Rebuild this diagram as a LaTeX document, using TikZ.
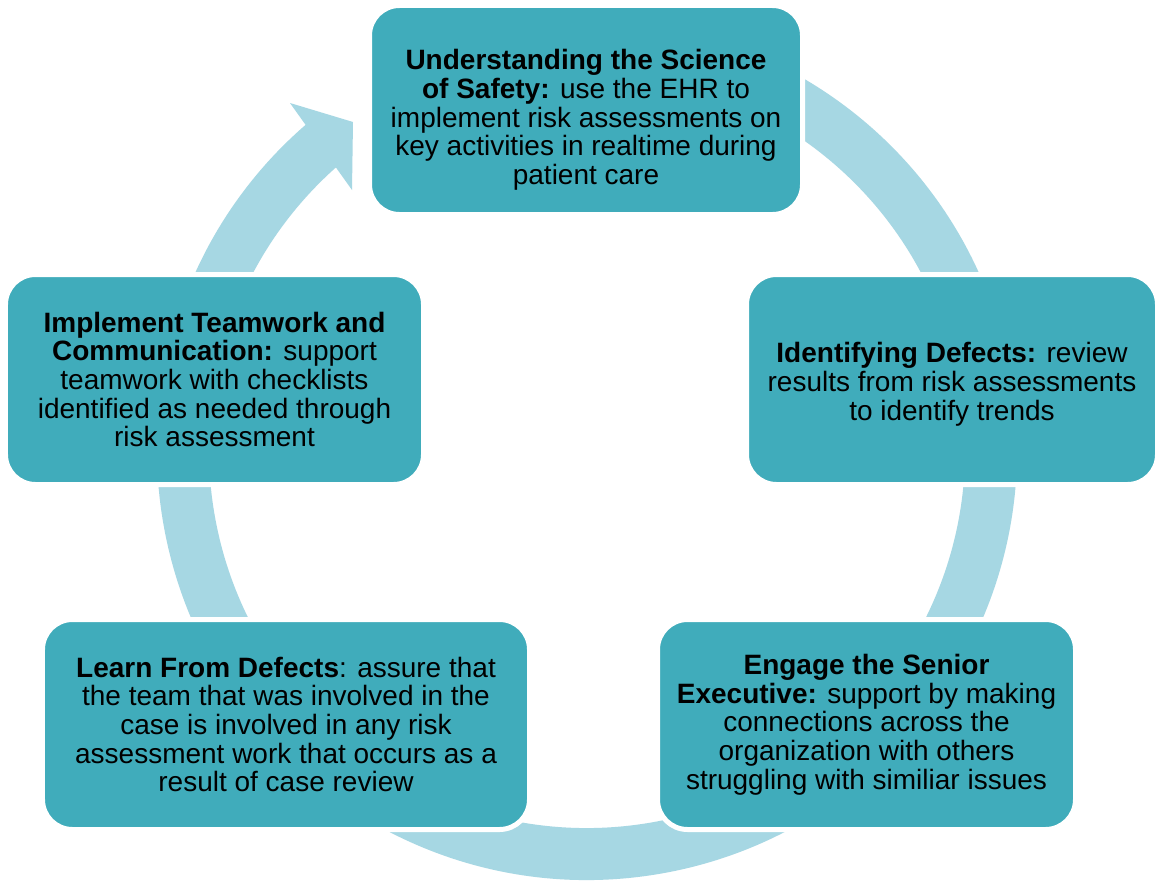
\documentclass[tikz,border=0pt]{standalone}
\usepackage{fontspec}
\setmainfont{Liberation Sans}
\definecolor{boxcol}{RGB}{64,172,187}
\definecolor{ringcol}{RGB}{166,215,227}
\begin{document}
\begin{tikzpicture}[x=1bp,y=-1bp,
  stepbox/.style={draw=white, line width=5bp, fill=boxcol, rounded corners=30bp,
    inner sep=0pt, align=center, text=black,
    font=\fontsize{28bp}{28.7bp}\selectfont},
  ringband/.style={draw=ringcol, line width=52bp},
  ringhead/.style={fill=ringcol}]
\useasboundingbox (0,0) rectangle (1156,882);
\fill[white] (0,0) rectangle (1156,882);
\coordinate (C) at (587,450);
% circular arrow behind the boxes
\draw[ringband] (C) ++(-100:404) arc[start angle=-100, end angle=230, radius=404];
\coordinate (hOut) at (290,103);
\coordinate (hTip) at (353,122);
\coordinate (hIn) at (352,190);
\fill[ringhead] (hOut) -- (hTip) -- (hIn) -- cycle;
% boxes
\node[stepbox, minimum width=433bp, minimum height=209bp] (top) at (586,110)
  {\rule{0pt}{40bp}\textbf{Understanding the Science}\\
   \textbf{of Safety:} use the EHR to\\
   implement risk assessments on\\
   key activities in realtime during\\
   patient care};
\node[stepbox, minimum width=411bp, minimum height=210bp] (right) at (952,379.5)
  {\rule{0pt}{30bp}\textbf{Identifying Defects:} review\\
   results from risk assessments\\
   to identify trends};
\node[stepbox, minimum width=418bp, minimum height=210bp] (botR) at (866.5,724.5)
  {\textbf{Engage the Senior}\\
   \textbf{Executive:} support by making\\
   connections across the\\
   organization with others\\
   struggling with similiar issues};
\node[stepbox, minimum width=487bp, minimum height=210bp] (botL) at (286,724.5)
  {\textbf{Learn From Defects}: assure that\\
   the team that was involved in the\\
   case is involved in any risk\\
   assessment work that occurs as a\\
   result of case review};
\node[stepbox, minimum width=418bp, minimum height=210bp] (left) at (214.5,379.5)
  {\textbf{Implement Teamwork and}\\
   \textbf{Communication:} support\\
   teamwork with checklists\\
   identified as needed through\\
   risk assessment};
\end{tikzpicture}
\end{document}
